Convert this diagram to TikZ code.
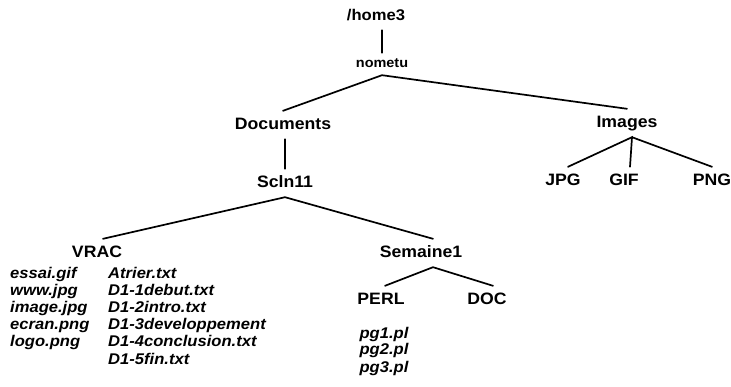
\documentclass[tikz,border=0pt]{standalone}
\usepackage{fontspec}
\setmainfont{Liberation Sans}[FakeStretch=1.07]
\begin{document}
\begin{tikzpicture}[x=1pt,y=-1pt,
  lbl/.style={font=\bfseries\fontsize{16.5}{18}\selectfont, inner xsep=0pt, inner ysep=7pt, text height=12pt, text depth=2pt, anchor=base},
  small/.style={lbl, font=\bfseries\fontsize{13.5}{15}\selectfont, text height=10pt, inner ysep=5pt},
  file/.style={font=\bfseries\itshape\fontsize{15.5}{17}\selectfont, inner sep=0pt, anchor=base west},
  pfile/.style={file, anchor=base},
  edge/.style={line width=1.7pt, line cap=round}]
\useasboundingbox (0,0) rectangle (731,387);
% nodes
\node[lbl, font=\bfseries\fontsize{15.5}{17}\selectfont] (home) at (376,21) {/home3};
\node[small] (nometu) at (382,68) {nometu};
\node[lbl] (docs) at (283,130) {Documents};
\node[lbl] (scln) at (285,188) {Scln11};
\node[lbl] (images) at (627,128) {Images};
\node[lbl] (jpg) at (563,186) {JPG};
\node[lbl] (gif) at (624,186) {GIF};
\node[lbl] (png) at (712,186) {PNG};
\node[lbl] (vrac) at (97,258) {VRAC};
\node[lbl] (sem) at (421,258) {Semaine1};
\node[lbl] (perl) at (381,305) {PERL};
\node[lbl] (doc) at (487,305) {DOC};
% files
\node[file] (a1) at (10,279) {essai.gif};
\node[file] (a2) at (10,296) {www.jpg};
\node[file] (a3) at (10,313) {image.jpg};
\node[file] (a4) at (10,330) {ecran.png};
\node[file] (a5) at (10,347) {logo.png};
\node[file] (b1) at (108,279) {Atrier.txt};
\node[file] (b2) at (108,296) {D1-1debut.txt};
\node[file] (b3) at (108,313) {D1-2intro.txt};
\node[file] (b4) at (108,330) {D1-3developpement};
\node[file] (b5) at (108,347) {D1-4conclusion.txt};
\node[file] (b6) at (108,364) {D1-5fin.txt};
\node[pfile] (p1) at (384,338) {pg1.pl};
\node[pfile] (p2) at (384,355) {pg2.pl};
\node[pfile] (p3) at (384,372) {pg3.pl};
% edges
\draw[edge] (home.south -| nometu.north) -- (nometu.north);
\draw[edge] (docs.north) -- (nometu.south) -- (images.north);
\draw[edge] (docs.south -| scln.north) -- (scln.north);
\draw[edge] ([xshift=6pt]vrac.north) -- (scln.south) -- ([xshift=12pt]sem.north);
\draw[edge] ([xshift=4pt]perl.north) -- ([xshift=12pt]sem.south) -- ([xshift=6pt]doc.north);
\draw[edge] ([xshift=5pt]jpg.north) -- ([xshift=5pt]images.south) -- ([xshift=6pt]gif.north);
\draw[edge] ([xshift=5pt]images.south) -- (png.north);
\end{tikzpicture}
\end{document}
